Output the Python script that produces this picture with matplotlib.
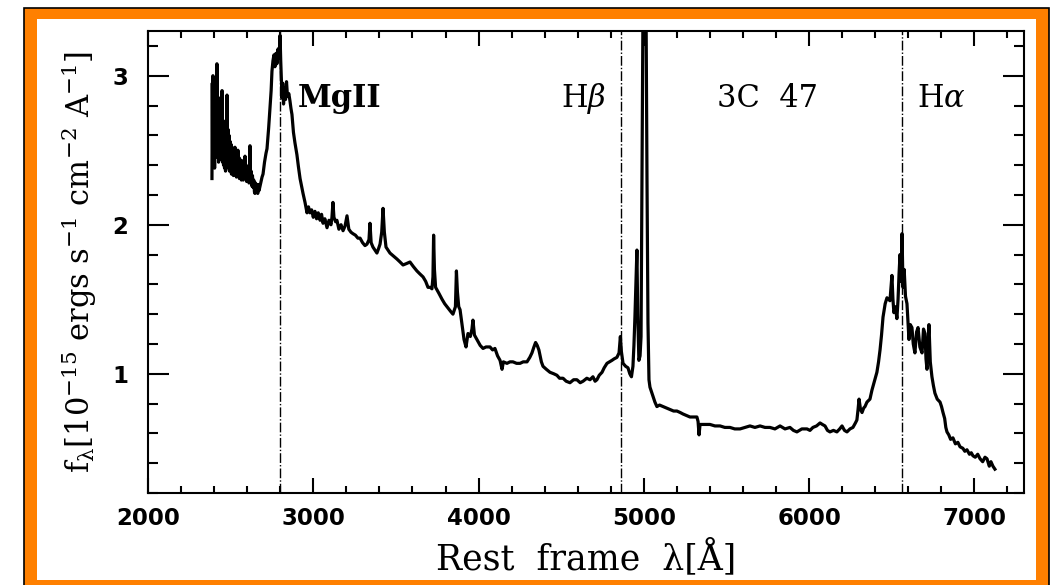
import numpy as np
import matplotlib
matplotlib.use("Agg")
import matplotlib.pyplot as plt
from matplotlib.patches import Rectangle
from matplotlib.ticker import MultipleLocator

# rest-frame spectrum of 3C 47 (wavelength in Angstrom, flux in 1e-15 erg/s/cm^2/A)
# noisy blue end, below 2680 A
wave_uv = [2387, 2389, 2391, 2393, 2395, 2397, 2399, 2401, 2403, 2405,
           2407, 2409, 2411, 2413, 2415, 2417, 2419, 2421, 2423, 2425,
           2427, 2429, 2431, 2434, 2436, 2439, 2441, 2444, 2446, 2448,
           2451, 2454, 2457, 2460, 2463, 2466, 2469, 2472, 2475, 2478,
           2481, 2484, 2487, 2490, 2493, 2496, 2499, 2502, 2505, 2508,
           2511, 2514, 2517, 2520, 2523, 2526, 2529, 2532, 2535, 2538,
           2541, 2544, 2547, 2550, 2553, 2556, 2559, 2562, 2565, 2568,
           2571, 2574, 2577, 2580, 2583, 2587, 2590, 2594, 2597, 2600,
           2604, 2607, 2611, 2614, 2617, 2620, 2624, 2628, 2632, 2636,
           2640, 2644, 2647, 2651, 2655, 2660, 2664, 2668, 2672, 2678]
flux_uv = [2.31, 2.95, 2.45, 3.00, 2.40, 2.85, 2.50, 2.75, 2.38, 2.80,
           2.45, 2.90, 2.52, 2.78, 2.47, 3.08, 2.50, 2.82, 2.46, 2.76,
           2.42, 2.80, 2.50, 2.85, 2.48, 2.74, 2.44, 2.82, 2.47, 2.90,
           2.42, 2.70, 2.40, 2.66, 2.38, 2.62, 2.36, 2.58, 2.40, 2.87,
           2.42, 2.64, 2.38, 2.60, 2.36, 2.56, 2.38, 2.54, 2.34, 2.52,
           2.35, 2.50, 2.33, 2.48, 2.36, 2.52, 2.34, 2.47, 2.32, 2.46,
           2.33, 2.50, 2.34, 2.45, 2.31, 2.44, 2.32, 2.42, 2.30, 2.43,
           2.31, 2.42, 2.30, 2.40, 2.32, 2.46, 2.31, 2.40, 2.29, 2.38,
           2.30, 2.36, 2.28, 2.38, 2.53, 2.32, 2.36, 2.26, 2.33, 2.25,
           2.30, 2.22, 2.21, 2.28, 2.23, 2.26, 2.21, 2.27, 2.23, 2.26]

# MgII onwards
wave = [2690, 2696, 2705, 2714, 2720, 2730,
        2738, 2745, 2750, 2756, 2762, 2768, 2774, 2780, 2787, 2793, 2799, 2803, 2807,
        2811, 2815, 2820, 2826, 2832, 2838, 2844, 2852, 2859, 2865, 2871, 2880, 2889,
        2901, 2910, 2920, 2929, 2938, 2950, 2962, 2971, 2980, 2990, 3000, 3010, 3020,
        3030, 3041, 3050, 3059, 3070, 3083, 3095, 3107, 3113, 3119, 3125, 3135, 3143,
        3155, 3168, 3180, 3192, 3204, 3215, 3228, 3240, 3255, 3270, 3283, 3298, 3313,
        3325, 3337, 3343, 3350, 3361, 3373, 3385, 3395, 3404, 3414, 3422, 3430, 3440,
        3452, 3464, 3485, 3506, 3525, 3543, 3565, 3585, 3605, 3627, 3645, 3664, 3680,
        3694, 3708, 3718, 3724, 3728, 3733, 3740, 3760, 3779, 3795, 3809, 3830, 3845,
        3860, 3866, 3872, 3880, 3888, 3900, 3912, 3924, 3936, 3950, 3960, 3966, 3975,
        3990, 4010, 4027, 4045, 4069, 4085, 4099, 4115, 4130, 4142, 4150, 4172, 4190,
        4208, 4230, 4251, 4270, 4293, 4310, 4323, 4335, 4345, 4355, 4365, 4380, 4390,
        4410, 4432, 4455, 4474, 4490, 4511, 4530, 4553, 4575, 4595, 4615, 4632, 4655,
        4674, 4692, 4705, 4716, 4730, 4747, 4760, 4777, 4792, 4807, 4820, 4837, 4850,
        4858, 4864, 4874, 4890, 4904, 4915, 4925, 4934, 4940, 4946, 4952, 4958, 4963,
        4970, 4977, 4983, 4989, 4995, 5001, 5007, 5013, 5019, 5025, 5031, 5037, 5046,
        5055, 5067, 5079, 5095, 5116, 5137, 5158, 5180, 5200, 5220, 5237, 5258, 5279,
        5300, 5321, 5328, 5334, 5340, 5352, 5376, 5400, 5430, 5461, 5490, 5521, 5550,
        5582, 5612, 5642, 5672, 5703, 5733, 5763, 5793, 5824, 5854, 5884, 5905, 5926,
        5956, 5987, 6005, 6023, 6045, 6066, 6080, 6096, 6111, 6126, 6147, 6168, 6185,
        6199, 6214, 6229, 6247, 6265, 6280, 6289, 6296, 6302, 6311, 6320, 6330, 6338,
        6350, 6368, 6380, 6390, 6398, 6410, 6420, 6429, 6438, 6447, 6460, 6471, 6480,
        6489, 6495, 6501, 6507, 6513, 6522, 6531, 6538, 6544, 6550, 6556, 6562, 6568,
        6575, 6583, 6592, 6598, 6604, 6612, 6622, 6630, 6640, 6650, 6659, 6670, 6683,
        6692, 6701, 6707, 6713, 6719, 6725, 6733, 6743, 6752, 6761, 6775, 6792, 6801,
        6810, 6820, 6827, 6834, 6845, 6856, 6870, 6885, 6900, 6913, 6930, 6942, 6955,
        6970, 6981, 6991, 7005, 7020, 7034, 7050, 7064, 7076, 7090, 7100, 7112, 7124]

flux = [2.32, 2.34, 2.42, 2.48, 2.51, 2.65,
        2.78, 2.90, 3.03, 3.10, 3.14, 3.06, 3.15, 3.08, 3.18, 3.12, 3.27, 3.10, 2.98,
        2.85, 2.95, 2.81, 2.92, 2.84, 2.96, 2.86, 2.88, 2.83, 2.78, 2.74, 2.62, 2.55,
        2.47, 2.39, 2.31, 2.26, 2.21, 2.15, 2.08, 2.12, 2.08, 2.10, 2.05, 2.09, 2.04,
        2.08, 2.03, 2.07, 2.01, 2.04, 1.98, 2.03, 2.00, 2.05, 2.15, 2.05, 2.02, 2.03,
        1.97, 2.00, 1.96, 1.99, 2.06, 1.97, 1.95, 1.94, 1.93, 1.91, 1.91, 1.88, 1.86,
        1.87, 1.90, 2.01, 1.88, 1.85, 1.83, 1.81, 1.84, 1.87, 1.95, 2.11, 1.95, 1.85,
        1.83, 1.81, 1.79, 1.77, 1.75, 1.73, 1.74, 1.75, 1.72, 1.69, 1.67, 1.65, 1.62,
        1.58, 1.58, 1.57, 1.65, 1.93, 1.70, 1.58, 1.54, 1.50, 1.47, 1.45, 1.42, 1.40,
        1.45, 1.69, 1.55, 1.45, 1.43, 1.33, 1.23, 1.18, 1.27, 1.25, 1.30, 1.36, 1.26,
        1.23, 1.19, 1.17, 1.18, 1.18, 1.16, 1.17, 1.12, 1.09, 1.03, 1.08, 1.07, 1.08,
        1.08, 1.07, 1.07, 1.08, 1.08, 1.11, 1.14, 1.18, 1.21, 1.19, 1.16, 1.08, 1.05,
        1.03, 1.01, 1.00, 0.99, 0.97, 0.97, 0.95, 0.94, 0.96, 0.96, 0.94, 0.95, 0.97,
        0.96, 0.98, 0.95, 0.96, 0.99, 1.01, 1.04, 1.07, 1.08, 1.09, 1.10, 1.11, 1.14,
        1.25, 1.15, 1.07, 1.05, 1.04, 1.00, 0.98, 1.05, 1.19, 1.38, 1.60, 1.83, 1.40,
        1.09, 1.12, 1.25, 2.38, 3.50, 3.60, 3.60, 3.50, 2.31, 1.34, 0.96, 0.91, 0.88,
        0.85, 0.81, 0.78, 0.79, 0.78, 0.77, 0.76, 0.75, 0.75, 0.74, 0.73, 0.72, 0.71,
        0.71, 0.71, 0.68, 0.59, 0.66, 0.66, 0.66, 0.66, 0.65, 0.65, 0.64, 0.64, 0.63,
        0.63, 0.64, 0.65, 0.64, 0.65, 0.64, 0.64, 0.63, 0.65, 0.63, 0.64, 0.62, 0.61,
        0.63, 0.63, 0.62, 0.64, 0.65, 0.67, 0.66, 0.65, 0.62, 0.61, 0.62, 0.61, 0.63,
        0.65, 0.62, 0.61, 0.63, 0.64, 0.67, 0.69, 0.76, 0.83, 0.76, 0.74, 0.77, 0.78,
        0.81, 0.83, 0.89, 0.93, 0.96, 1.01, 1.08, 1.16, 1.26, 1.38, 1.47, 1.51, 1.50,
        1.49, 1.58, 1.66, 1.50, 1.41, 1.45, 1.37, 1.50, 1.67, 1.80, 1.62, 1.94, 1.58,
        1.70, 1.52, 1.47, 1.35, 1.23, 1.33, 1.31, 1.20, 1.14, 1.28, 1.31, 1.18, 1.14,
        1.30, 1.27, 1.10, 1.03, 1.20, 1.33, 1.08, 0.98, 0.92, 0.87, 0.83, 0.81, 0.78,
        0.74, 0.70, 0.64, 0.61, 0.59, 0.56, 0.57, 0.53, 0.54, 0.51, 0.50, 0.48, 0.49,
        0.46, 0.47, 0.45, 0.44, 0.46, 0.43, 0.41, 0.44, 0.43, 0.38, 0.41, 0.38, 0.36]

# emission line markers and their labels
line_waves = [2798, 4861, 6563]
label_text = ["MgII", r"H$\beta$", "3C  47", r"H$\alpha$"]
label_x = [2905, 4500, 5440, 6655]
label_y = [2.79, 2.79, 2.79, 2.79]

plt.rcParams["mathtext.fontset"] = "dejavuserif"
orange = "#ff8000"

fig = plt.figure(figsize=(10.55, 5.85), dpi=100)
W, H = 1055.0, 585.0

# orange frame around the figure
frame = Rectangle((24 / W, -0.02), 1025 / W, 1.0 - 8 / H + 0.02,
                  transform=fig.transFigure, facecolor=orange,
                  edgecolor="black", linewidth=1.2, zorder=-20)
inner = Rectangle((37 / W, 5 / H), 999 / W, 561 / H,
                  transform=fig.transFigure, facecolor="white",
                  edgecolor="none", zorder=-19)
fig.patches.extend([frame, inner])

ax = fig.add_axes([148 / W, 1 - 493 / H, 876 / W, 462 / H])
ax.patch.set_facecolor("white")

spec_w = np.concatenate([wave_uv, wave])
spec_f = np.concatenate([flux_uv, flux])
ax.plot(spec_w, spec_f, color="black", linewidth=2.3, zorder=3)
for lw_ in line_waves:
    ax.axvline(lw_, color="black", linewidth=1.0, dashes=(7, 1.5, 1, 1.5), zorder=2)

ax.set_xlim(2000, 7300)
ax.set_ylim(0.2, 3.3)

ax.xaxis.set_major_locator(MultipleLocator(1000))
ax.xaxis.set_minor_locator(MultipleLocator(200))
ax.yaxis.set_major_locator(MultipleLocator(1))
ax.yaxis.set_minor_locator(MultipleLocator(0.2))

ax.tick_params(axis="both", which="both", direction="in", top=True, right=True,
               width=1.5, color="black")
ax.tick_params(axis="x", which="major", length=11, pad=10)
ax.tick_params(axis="x", which="minor", length=5)
ax.tick_params(axis="y", which="major", length=15, pad=14)
ax.tick_params(axis="y", which="minor", length=7.5)
for lab in ax.get_xticklabels() + ax.get_yticklabels():
    lab.set_fontweight("bold")
    lab.set_fontsize(16.5)
    lab.set_family("DejaVu Sans")

for sp in ax.spines.values():
    sp.set_linewidth(1.5)

ax.set_xlabel("Rest  frame  λ[Å]", family="DejaVu Serif", fontsize=25, labelpad=6)
ax.set_ylabel(r"$\mathrm{f_{\lambda}[10^{-15}\ ergs\ s^{-1}\ cm^{-2}\ A^{-1}]}$",
              fontsize=22, labelpad=10)

for txt, tx, ty in zip(label_text, label_x, label_y):
    weight = "bold" if txt == "MgII" else "normal"
    ax.text(tx, ty, txt, family="DejaVu Serif", fontsize=22, fontweight=weight,
            va="baseline", ha="left", zorder=4)

fig.savefig("out.png", dpi=100)
